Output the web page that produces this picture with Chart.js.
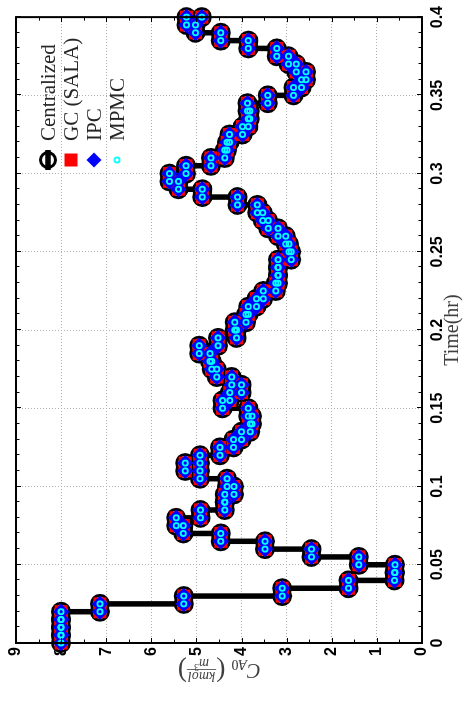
<!DOCTYPE html>
<html>
<head>
<meta charset="utf-8">
<script src="https://cdn.jsdelivr.net/npm/chart.js@4.4.1/dist/chart.umd.min.js"></script>
<style>
  html, body { margin: 0; padding: 0; background: #fff; overflow: hidden; }
  /* the figure is drawn in landscape and turned a quarter turn, as in the source */
  #wrap { position: absolute; left: 0; top: 0; width: 708px; height: 475px;
          transform-origin: 0 0; transform: translateY(708px) rotate(-90deg); }
</style>
</head>
<body>
<div id="wrap"><canvas id="chart" width="708" height="475"></canvas></div>
<script>
// sample instants (hr)
var timeHr = [0, 0.005, 0.01, 0.015, 0.02, 0.025, 0.03, 0.035, 0.04, 0.045,
    0.05, 0.055, 0.06, 0.065, 0.07, 0.075, 0.08, 0.085, 0.09, 0.095,
    0.1, 0.105, 0.11, 0.115, 0.12, 0.125, 0.13, 0.135, 0.14, 0.145,
    0.15, 0.155, 0.16, 0.165, 0.17, 0.175, 0.18, 0.185, 0.19, 0.195,
    0.2, 0.205, 0.21, 0.215, 0.22, 0.225, 0.23, 0.235, 0.24, 0.245,
    0.25, 0.255, 0.26, 0.265, 0.27, 0.275, 0.28, 0.285, 0.29, 0.295,
    0.3, 0.305, 0.31, 0.315, 0.32, 0.325, 0.33, 0.335, 0.34, 0.345,
    0.35, 0.355, 0.36, 0.365, 0.37, 0.375, 0.38, 0.385, 0.39, 0.395, 0.4];

// C_A0 held over each sample interval, one array per controller
var centralized = [8.0, 8.0, 8.0, 8.0, 7.14, 5.28, 3.10, 1.63, 0.61, 0.60,
    1.40, 2.45, 3.48, 4.46, 5.29, 5.45, 4.91, 4.37, 4.37, 4.17,
    4.32, 4.92, 5.25, 4.92, 4.48, 4.18, 4.00, 3.81, 3.77, 3.85,
    4.42, 4.26, 4.00, 4.22, 4.55, 4.66, 4.70, 4.94, 4.52, 4.11,
    4.15, 3.90, 3.85, 3.67, 3.52, 3.24, 3.19, 3.19, 3.19, 2.90,
    2.95, 3.02, 3.19, 3.41, 3.53, 3.65, 4.09, 4.87, 5.40, 5.60,
    5.23, 4.68, 4.37, 4.32, 4.27, 3.98, 3.85, 3.82, 3.87, 3.42,
    2.85, 2.67, 2.57, 2.79, 2.96, 3.22, 3.85, 4.46, 5.02, 5.22, 4.88];
var gcSala = [8.0, 8.0, 8.0, 8.0, 7.14, 5.28, 3.10, 1.63, 0.61, 0.60,
    1.40, 2.45, 3.48, 4.46, 5.29, 5.45, 4.91, 4.37, 4.37, 4.17,
    4.32, 4.92, 5.25, 4.92, 4.48, 4.18, 4.00, 3.81, 3.77, 3.85,
    4.42, 4.26, 4.00, 4.22, 4.55, 4.66, 4.70, 4.94, 4.52, 4.11,
    4.15, 3.90, 3.85, 3.67, 3.52, 3.24, 3.19, 3.19, 3.19, 2.90,
    2.95, 3.02, 3.19, 3.41, 3.53, 3.65, 4.09, 4.87, 5.40, 5.60,
    5.23, 4.68, 4.37, 4.32, 4.27, 3.98, 3.85, 3.82, 3.87, 3.42,
    2.85, 2.67, 2.57, 2.79, 2.96, 3.22, 3.85, 4.46, 5.02, 5.22, 4.88];
var ipc = [8.0, 8.0, 8.0, 8.0, 7.14, 5.28, 3.10, 1.63, 0.61, 0.60,
    1.40, 2.45, 3.48, 4.46, 5.29, 5.45, 4.91, 4.37, 4.37, 4.17,
    4.32, 4.92, 5.25, 4.92, 4.48, 4.18, 4.00, 3.81, 3.77, 3.85,
    4.42, 4.26, 4.00, 4.22, 4.55, 4.66, 4.70, 4.94, 4.52, 4.11,
    4.15, 3.90, 3.85, 3.67, 3.52, 3.24, 3.19, 3.19, 3.19, 2.90,
    2.95, 3.02, 3.19, 3.41, 3.53, 3.65, 4.09, 4.87, 5.40, 5.60,
    5.23, 4.68, 4.37, 4.32, 4.27, 3.98, 3.85, 3.82, 3.87, 3.42,
    2.85, 2.67, 2.57, 2.79, 2.96, 3.22, 3.85, 4.46, 5.02, 5.22, 4.88];
var mpmc = [8.0, 8.0, 8.0, 8.0, 7.14, 5.28, 3.10, 1.63, 0.61, 0.60,
    1.40, 2.45, 3.48, 4.46, 5.29, 5.45, 4.91, 4.37, 4.37, 4.17,
    4.32, 4.92, 5.25, 4.92, 4.48, 4.18, 4.00, 3.81, 3.77, 3.85,
    4.42, 4.26, 4.00, 4.22, 4.55, 4.66, 4.70, 4.94, 4.52, 4.11,
    4.15, 3.90, 3.85, 3.67, 3.52, 3.24, 3.19, 3.19, 3.19, 2.90,
    2.95, 3.02, 3.19, 3.41, 3.53, 3.65, 4.09, 4.87, 5.40, 5.60,
    5.23, 4.68, 4.37, 4.32, 4.27, 3.98, 3.85, 3.82, 3.87, 3.42,
    2.85, 2.67, 2.57, 2.79, 2.96, 3.22, 3.85, 4.46, 5.02, 5.22, 4.88];

var timeTicks = [0, 0.05, 0.1, 0.15, 0.2, 0.25, 0.3, 0.35, 0.4];
var concTicks = [0, 1, 2, 3, 4, 5, 6, 7, 8, 9];

// matlab-style stairs: a vertex at both ends of every held interval
function stairs(times, values) {
    var pts = [];
    for (var k = 0; k < values.length - 1; k++) {
        pts.push({ x: times[k], y: values[k] });
        pts.push({ x: times[k + 1], y: values[k] });
    }
    pts.push({ x: times[values.length - 1], y: values[values.length - 1] });
    return pts;
}

var tickFont = { family: '"Liberation Sans", Arial, sans-serif', size: 16, weight: 'bold' };

var frame = {
    id: 'frame',
    afterDraw: function (chart) {
        var ctx = chart.ctx, a = chart.chartArea;
        var xs = chart.scales.x, ys = chart.scales.y;
        ctx.save();

        // inward ticks on all four sides
        ctx.strokeStyle = '#000';
        ctx.lineWidth = 1;
        ctx.beginPath();
        for (var i = 0; i <= 40; i++) {
            var px = Math.round(xs.getPixelForValue(i / 100)) + 0.5;
            var len = i % 5 === 0 ? 5 : 3.5;
            ctx.moveTo(px, a.bottom); ctx.lineTo(px, a.bottom - len);
            ctx.moveTo(px, a.top); ctx.lineTo(px, a.top + len);
        }
        for (var j = 0; j <= 18; j++) {
            var py = Math.round(ys.getPixelForValue(j / 2)) + 0.5;
            var l2 = j % 2 === 0 ? 5 : 3.5;
            ctx.moveTo(a.left, py); ctx.lineTo(a.left + l2, py);
            ctx.moveTo(a.right, py); ctx.lineTo(a.right - l2, py);
        }
        ctx.stroke();
        ctx.lineWidth = 2;
        ctx.strokeRect(a.left, a.top, a.right - a.left, a.bottom - a.top);

        // y title: C_A0 (kmol / m^3)
        ctx.save();
        ctx.translate(37, (a.top + a.bottom) / 2);
        ctx.rotate(-Math.PI / 2);
        ctx.fillStyle = '#404040';
        ctx.strokeStyle = '#404040';
        ctx.textAlign = 'left';
        ctx.textBaseline = 'alphabetic';
        var fBig = 'italic 20px "Liberation Serif"';
        var fSub = 'italic 14px "Liberation Serif"';
        var fSubUp = '14px "Liberation Serif"';
        var fSup = '10px "Liberation Serif"';
        var fParen = '28px "Liberation Serif"';
        ctx.font = fBig; var wC = ctx.measureText('C').width;
        ctx.font = fSub; var wA = ctx.measureText('A').width;
        ctx.font = fSubUp; var w0 = ctx.measureText('0').width;
        ctx.font = fParen; var wP = ctx.measureText('(').width;
        ctx.font = fSub; var wNum = ctx.measureText('kmol').width; var wM = ctx.measureText('m').width;
        ctx.font = fSup; var w3 = ctx.measureText('3').width;
        var wFrac = Math.max(wNum, wM + w3) + 2;
        var total = wC + wA + w0 + 6 + wP + wFrac + wP;
        var u = -total / 2;
        ctx.font = fBig; ctx.fillText('C', u, 6.5); u += wC;
        ctx.font = fSub; ctx.fillText('A', u, 10.5); u += wA;
        ctx.font = fSubUp; ctx.fillText('0', u, 10.5); u += w0 + 6;
        ctx.font = fParen; ctx.fillText('(', u, 8.4); u += wP;
        ctx.lineWidth = 0.8;
        ctx.beginPath(); ctx.moveTo(u, 1.5); ctx.lineTo(u + wFrac, 1.5); ctx.stroke();
        ctx.font = fSub; ctx.fillText('kmol', u + (wFrac - wNum) / 2, -1.5);
        var um = u + (wFrac - wM - w3) / 2;
        ctx.fillText('m', um, 11.5);
        ctx.font = fSup; ctx.fillText('3', um + wM, 7);
        u += wFrac;
        ctx.font = fParen; ctx.fillText(')', u, 8.4);
        ctx.restore();

        // legend, stacked, no box
        var ds = chart.data.datasets;
        ctx.font = '21px "Liberation Serif"';
        ctx.textAlign = 'left';
        ctx.textBaseline = 'middle';
        for (var k = 0; k < ds.length; k++) {
            var ly = 48 + 23 * k, lx = 548;
            if (k === 0) {
                ctx.strokeStyle = '#000';
                ctx.lineWidth = 3;
                ctx.fillStyle = '#fff';
                ctx.beginPath(); ctx.arc(lx, ly, 7.5, 0, Math.PI * 2); ctx.fill(); ctx.stroke();
                ctx.fillStyle = '#000';
                ctx.fillRect(lx - 10, ly - 2.75, 20, 5.5);
            } else if (k === 1) {
                ctx.fillStyle = '#ff0000';
                ctx.fillRect(lx - 6.5, ly - 6.5, 13, 13);
            } else if (k === 2) {
                ctx.fillStyle = '#0000ff';
                ctx.beginPath();
                ctx.moveTo(lx, ly - 7.5); ctx.lineTo(lx + 7.5, ly);
                ctx.lineTo(lx, ly + 7.5); ctx.lineTo(lx - 7.5, ly);
                ctx.closePath(); ctx.fill();
            } else {
                ctx.strokeStyle = '#00ffff';
                ctx.lineWidth = 1.8;
                ctx.beginPath(); ctx.arc(lx, ly, 2.6, 0, Math.PI * 2); ctx.stroke();
            }
            ctx.fillStyle = '#262626';
            ctx.fillText(ds[k].label, 567, ly + 1);
        }
        ctx.restore();
    }
};

new Chart(document.getElementById('chart').getContext('2d'), {
    type: 'scatter',
    data: {
        datasets: [{
            label: 'Centralized',
            data: stairs(timeHr, centralized),
            showLine: true,
            borderColor: '#000',
            borderWidth: 5.5,
            pointStyle: 'circle',
            pointRadius: 8.5,
            pointBorderWidth: 3,
            pointBorderColor: '#000',
            pointBackgroundColor: '#fff',
            order: 4,
            clip: false
        }, {
            label: 'GC (SALA)',
            data: stairs(timeHr, gcSala),
            showLine: false,
            pointStyle: 'rect',
            pointRadius: 9.2,
            pointBorderWidth: 0,
            pointBackgroundColor: '#ff0000',
            order: 3,
            clip: false
        }, {
            label: 'IPC',
            data: stairs(timeHr, ipc),
            showLine: false,
            pointStyle: 'rectRot',
            pointRadius: 8.2,
            pointBorderWidth: 0,
            pointBackgroundColor: '#0000ff',
            order: 2,
            clip: false
        }, {
            label: 'MPMC',
            data: stairs(timeHr, mpmc),
            showLine: false,
            pointStyle: 'circle',
            pointRadius: 2.6,
            pointBorderWidth: 1.8,
            pointBorderColor: '#00ffff',
            pointBackgroundColor: 'rgba(0,0,0,0)',
            order: 1,
            clip: false
        }]
    },
    options: {
        responsive: false,
        animation: false,
        devicePixelRatio: 1,
        layout: { padding: { top: 16, right: 17, left: 0, bottom: 0 } },
        plugins: { legend: { display: false }, tooltip: { enabled: false } },
        scales: {
            x: {
                type: 'linear',
                min: 0,
                max: 0.4,
                afterBuildTicks: function (s) { s.ticks = timeTicks.map(function (v) { return { value: v }; }); },
                afterFit: function (s) { s.height = 53; },
                grid: { color: '#b0b0b0', lineWidth: 1, drawTicks: false },
                border: { display: false, dash: [1, 2] },
                ticks: { font: tickFont, color: '#000', padding: 6, maxRotation: 0,
                         callback: function (v) { return String(v); } },
                title: { display: true, text: 'Time(hr)', color: '#404040',
                         font: { family: '"Liberation Serif", serif', size: 20 },
                         padding: { top: 0, bottom: 10 } }
            },
            y: {
                type: 'linear',
                min: 0,
                max: 9,
                afterBuildTicks: function (s) { s.ticks = concTicks.map(function (v) { return { value: v }; }); },
                afterFit: function (s) { s.width = 65; },
                grid: { color: '#b0b0b0', lineWidth: 1, drawTicks: false },
                border: { display: false, dash: [1, 2] },
                ticks: { font: tickFont, color: '#000', padding: 4,
                         callback: function (v) { return String(v); } }
            }
        }
    },
    plugins: [frame]
});
</script>
</body>
</html>
